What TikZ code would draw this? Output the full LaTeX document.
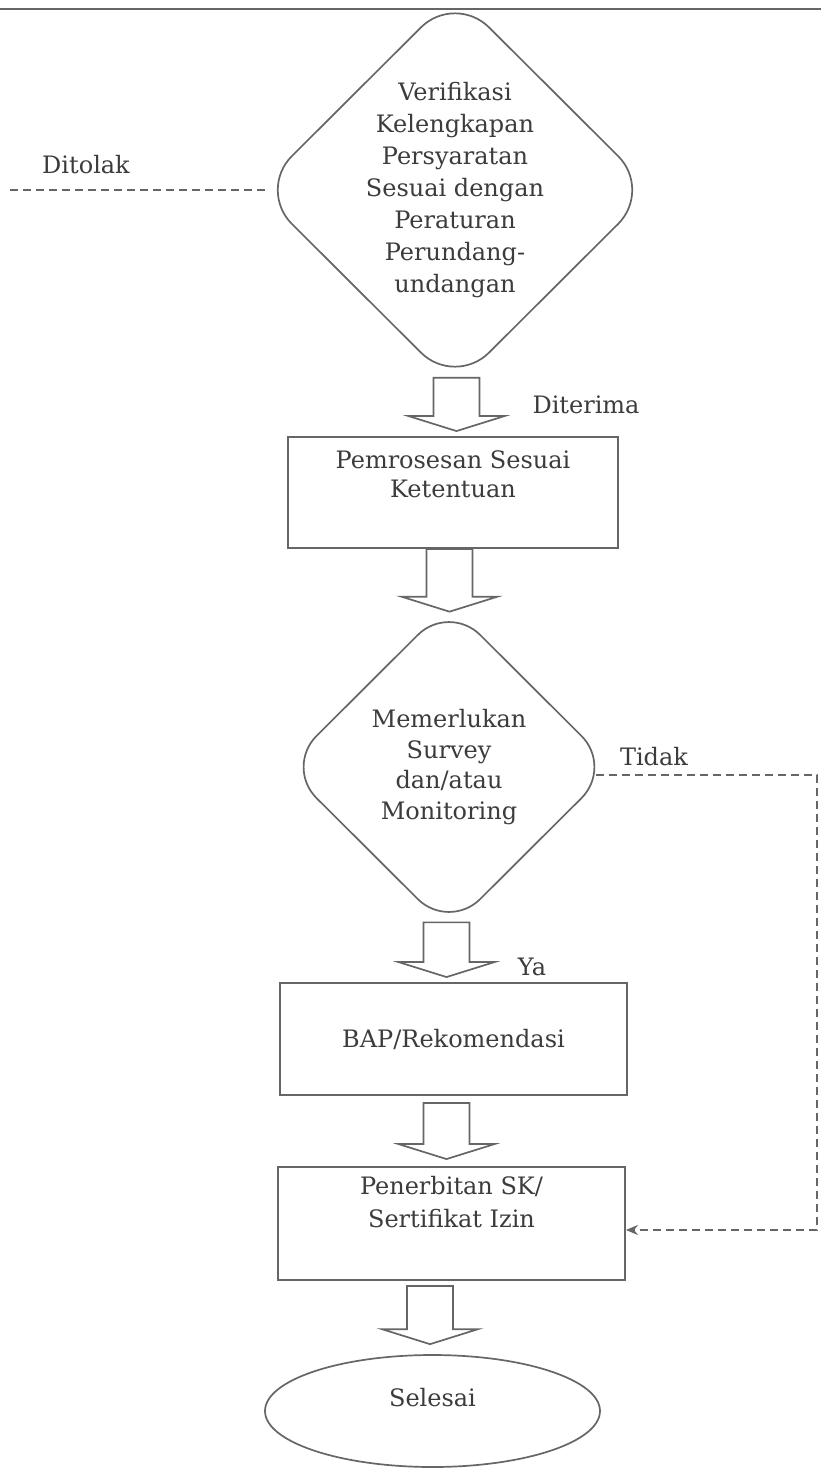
\documentclass[tikz,border=0pt]{standalone}
\usepackage{fontspec}
\setmainfont{DejaVu Serif}
\usetikzlibrary{shapes.geometric,arrows.meta,calc}
\definecolor{ln}{HTML}{666666}
\definecolor{tx}{HTML}{3C3C3C}
\newcommand{\barrow}[3]{%
  \coordinate (ba) at (#1,0);
  \coordinate (bt) at (ba|-#2);
  \coordinate (bp) at (ba|-#3);
  \draw[blk] ($(bt)+(-23,0)$) -- ($(bp)+(-23,-15)$) -- ($(bp)+(-48,-15)$) -- (bp)
    -- ($(bp)+(48,-15)$) -- ($(bp)+(23,-15)$) -- ($(bt)+(23,0)$) -- cycle;}
\begin{document}
\begin{tikzpicture}[x=0.5pt,y=-0.5pt,
  every node/.style={font=\fontsize{12}{15.5}\selectfont, text=tx},
  dia/.style={diamond, draw=ln, line width=0.85pt, inner sep=0pt, align=center},
  box/.style={rectangle, draw=ln, line width=0.95pt, align=center, inner sep=0pt},
  term/.style={ellipse, draw=ln, line width=0.85pt, inner sep=0pt},
  blk/.style={draw=ln, line width=0.85pt, fill=white, line join=miter},
  dashline/.style={draw=ln, line width=0.85pt, dash pattern=on 4pt off 2.5pt},
  lbl/.style={inner sep=0pt}
]
\fill[white] (0,0) rectangle (821,1468);
\useasboundingbox (0,0) rectangle (821,1468);
\draw[ln, line width=1.4pt] (0,9) -- (821,9);

% nodes
\node[dia, rounded corners=24pt, minimum width=197.5pt, minimum height=195pt, font=\fontsize{12}{16}\selectfont] (d1) at (455,190)
  {Verifikasi\\Kelengkapan\\Persyaratan\\Sesuai dengan\\Peraturan\\Perundang-\\undangan};
\node[box, minimum width=165pt, minimum height=55.5pt, font=\fontsize{12}{14.5}\selectfont] (r1) at (453,492.5)
  {Pemrosesan Sesuai\\Ketentuan\\\strut};
\node[dia, rounded corners=22pt, minimum width=164pt, minimum height=163.5pt, font=\fontsize{12}{15.3}\selectfont] (d2) at (449,767)
  {Memerlukan\\Survey\\dan/atau\\Monitoring};
\node[box, minimum width=173.5pt, minimum height=56pt] (r2) at (453.5,1039) {BAP/Rekomendasi};
\node[box, minimum width=173.5pt, minimum height=56.5pt, font=\fontsize{12}{16.5}\selectfont] (r3) at (451.5,1223.5)
  {Penerbitan SK/\\Sertifikat Izin\\\strut};
\node[term, minimum width=167.5pt, minimum height=56pt, text depth=14pt] (e1) at (432.5,1411) {Selesai};

% labels
\node[lbl] (tolak) at (86,165) {Ditolak};
\node[lbl] (terima) at (586,405) {Diterima};
\node[lbl] (tidak) at (654,757) {Tidak};
\node[lbl] (ya) at (532,967) {Ya};

% helper coordinates for block arrows
\coordinate (d1s) at ([yshift=5pt]d1.south);
\coordinate (r1n) at ([yshift=2.5pt]r1.north);
\coordinate (r1s) at (r1.south);
\coordinate (d2n) at ([yshift=-4.5pt]d2.north);
\coordinate (d2s) at ([yshift=4.5pt]d2.south);
\coordinate (r2n) at ([yshift=2.5pt]r2.north);
\coordinate (r2s) at ([yshift=-3.5pt]r2.south);
\coordinate (r3n) at ([yshift=3.5pt]r3.north);
\coordinate (r3s) at ([yshift=-2.5pt]r3.south);
\coordinate (e1n) at ([yshift=5pt]e1.north);

\barrow{456.5}{d1s}{r1n}
\barrow{449.5}{r1s}{d2n}
\barrow{446.5}{d2s}{r2n}
\barrow{446.5}{r2s}{r3n}
\barrow{430}{r3s}{e1n}

% dashed connectors
\coordinate (tl) at (10,190);
\draw[dashline] (tl) -- ([xshift=5pt]d1.west);
\coordinate (k1) at (817,775);
\coordinate (k2) at (817,1230);
\draw[dashline, -{Stealth[length=6pt,width=5pt]}] ([xshift=-9pt,yshift=-4pt]d2.east) -- (k1) -- (k2) -- (k2 -| r3.east);
\end{tikzpicture}
\end{document}
